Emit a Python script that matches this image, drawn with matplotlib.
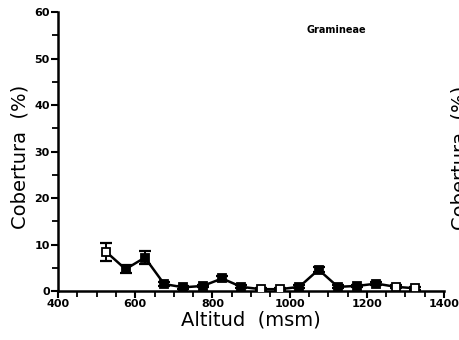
import matplotlib
matplotlib.use('Agg')
import matplotlib.pyplot as plt
from matplotlib.ticker import MultipleLocator

# altitude classes (msm) and mean cover (%) with error
altitud = [525, 575, 625, 675, 725, 775, 825, 875, 925, 975,
           1025, 1075, 1125, 1175, 1225, 1275, 1325]
cobertura = [8.4, 4.7, 7.2, 1.5, 0.8, 1.1, 2.7, 0.9, 0.4, 0.4,
             0.9, 4.6, 0.9, 1.1, 1.6, 0.9, 0.6]
error = [2.0, 0.9, 1.4, 0.5, 0.3, 0.3, 0.5, 0.3, 0.2, 0.2,
         0.3, 0.6, 0.3, 0.3, 0.4, 0.3, 0.3]
hollow = [True, False, False, False, False, False, False, False, True, True,
          False, False, False, False, False, True, True]

fig = plt.figure(figsize=(4.59, 3.40), dpi=100)
ax = fig.add_axes([0.1264, 0.144, 0.841, 0.8206])

ax.errorbar(altitud, cobertura, yerr=error, color='black', lw=1.8,
            capsize=4, capthick=1.6, elinewidth=1.4, fmt='none', zorder=2)
ax.plot(altitud, cobertura, color='black', lw=1.8, zorder=3)
for xv, yv, h in zip(altitud, cobertura, hollow):
    ax.plot(xv, yv, marker='s', ms=5.5, mec='black', mew=1.3,
            mfc='white' if h else 'black', zorder=4)

ax.set_xlim(400, 1400)
ax.set_ylim(0, 60)
ax.xaxis.set_major_locator(MultipleLocator(200))
ax.xaxis.set_minor_locator(MultipleLocator(50))
ax.yaxis.set_major_locator(MultipleLocator(10))
ax.yaxis.set_minor_locator(MultipleLocator(5))

for s in ['top', 'right']:
    ax.spines[s].set_visible(False)
for s in ['left', 'bottom']:
    ax.spines[s].set_linewidth(1.8)

ax.tick_params(which='major', direction='out', length=5, width=1.5, labelsize=8, pad=1)
ax.tick_params(which='minor', direction='out', length=4, width=1.3)
for lab in ax.get_xticklabels() + ax.get_yticklabels():
    lab.set_fontweight('bold')

ax.set_xlabel('Altitud  (msm)', fontsize=14, labelpad=1)
ax.set_ylabel('Cobertura  (%)', fontsize=14, labelpad=2)
ax.yaxis.set_label_coords(-0.075, 0.48)

ax.text(0.72, 0.935, 'Gramineae', transform=ax.transAxes, fontsize=7,
        fontweight='bold', ha='center', va='center')

# edge of the neighbouring panel, cut by the figure border
fig.text(0.982, 0.535, 'Cobertura  (%)', rotation=90, fontsize=14,
         ha='left', va='center')

fig.savefig('out.png', dpi=100)
